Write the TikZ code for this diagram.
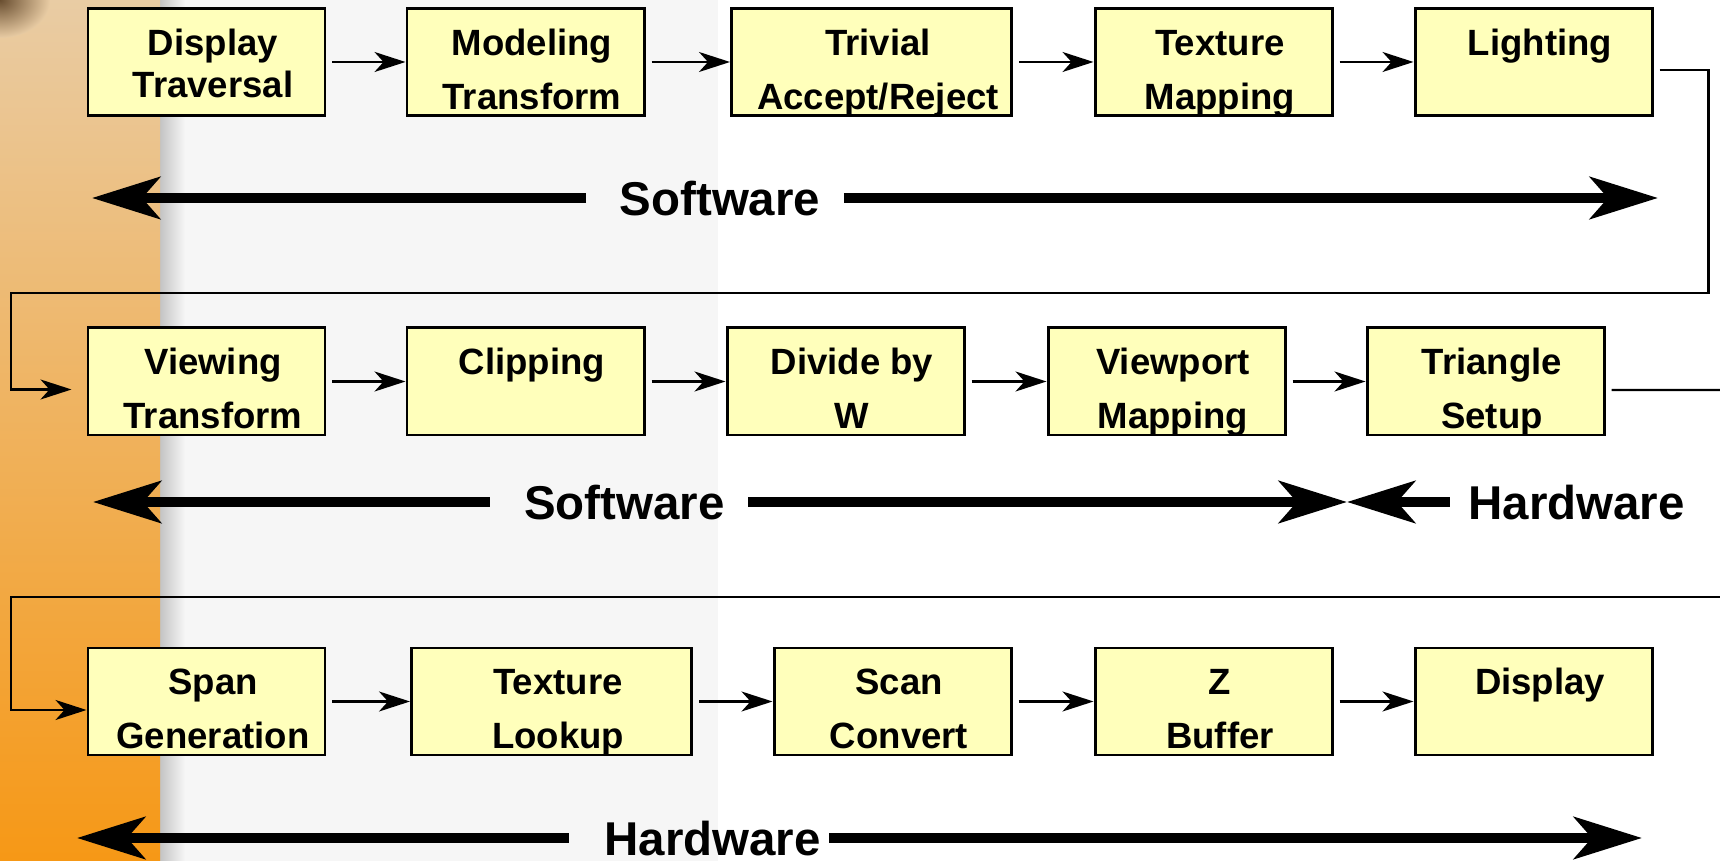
\documentclass[tikz,border=0pt]{standalone}
\usepackage{fontspec}
\setmainfont{Liberation Sans}
\usetikzlibrary{arrows.meta}
\definecolor{boxfill}{RGB}{255,255,187}
\definecolor{paper}{RGB}{246,246,246}
\definecolor{edgegray}{RGB}{196,196,196}
\definecolor{stripTop}{RGB}{233,204,164}
\definecolor{stripMid}{RGB}{240,184,108}
\definecolor{stripBot}{RGB}{246,152,22}
\definecolor{blob}{RGB}{105,78,48}
\tikzset{
  stage/.style={draw, line width=0.85pt, fill=boxfill, minimum width=2.37cm, minimum height=1.07cm,
    inner sep=0pt, align=center, text height=1.01cm, text depth=0.06cm,
    execute at begin node=\hskip1.3mm,
    font=\fontsize{10.4}{15.4}\selectfont\bfseries},
  single/.style={text height=0.47cm, text depth=0.6cm},
  wide/.style={minimum width=2.8cm},
  link/.style={line width=0.6pt},
  flow/.style={link, -{Stealth[length=3.1mm, width=2mm, inset=0.9mm]}},
  side/.style={inner sep=0pt, text depth=0pt, font=\fontsize{13.5}{16}\selectfont\bfseries},
  bigarrow/.style={line width=3pt, -{Stealth[length=6.8mm, width=4.2mm, inset=1.8mm]}}
}
\begin{document}
\begin{tikzpicture}
        \useasboundingbox (0,0) rectangle (17.2,-8.61);
        \fill[white] (0,0) rectangle (17.2,-8.61);
        \fill[paper] (1.6,0) rectangle (7.18,-8.61);
        \shade[left color=edgegray, right color=paper] (1.6,0) rectangle (1.85,-8.61);
        \shade[top color=stripTop, middle color=stripMid, bottom color=stripBot] (0,0) rectangle (1.6,-8.61);
        \shade[inner color=blob, outer color=stripTop] (0,0) ellipse (0.5 and 0.38);

        \node[stage, text height=0.89cm, text depth=0.18cm] (trav) at (2.065,-0.62) {Display\\[-3.4pt]Traversal};
        \node[stage] (model) at (5.255,-0.62) {Modeling\\Transform};
        \node[stage, wide] (trivial) at (8.715,-0.62) {Trivial\\Accept/Reject};
        \node[stage] (texmap) at (12.135,-0.62) {Texture\\Mapping};
        \node[stage, single] (light) at (15.335,-0.62) {Lighting};

        \node[stage] (view) at (2.065,-3.815) {Viewing\\Transform};
        \node[stage, single] (clip) at (5.255,-3.815) {Clipping};
        \node[stage] (divw) at (8.455,-3.815) {Divide by\\W};
        \node[stage] (vport) at (11.665,-3.815) {Viewport\\Mapping};
        \node[stage] (tri) at (14.855,-3.815) {Triangle\\Setup};

        \node[stage] (span) at (2.065,-7.015) {Span\\Generation};
        \node[stage, wide] (texlook) at (5.515,-7.015) {Texture\\Lookup};
        \node[stage] (scan) at (8.925,-7.015) {Scan\\Convert};
        \node[stage] (zbuf) at (12.135,-7.015) {Z\\Buffer};
        \node[stage, single] (disp) at (15.335,-7.015) {Display};

        \draw[flow, shorten <=0.06cm] (trav) -- (model);
        \draw[flow, shorten <=0.06cm] (model) -- (trivial);
        \draw[flow, shorten <=0.06cm] (trivial) -- (texmap);
        \draw[flow, shorten <=0.06cm] (texmap) -- (light);
        \draw[flow, shorten <=0.06cm] (view) -- (clip);
        \draw[flow, shorten <=0.06cm] (clip) -- (divw);
        \draw[flow, shorten <=0.06cm] (divw) -- (vport);
        \draw[flow, shorten <=0.06cm] (vport) -- (tri);
        \draw[flow, shorten <=0.06cm] (span) -- (texlook);
        \draw[flow, shorten <=0.06cm] (texlook) -- (scan);
        \draw[flow, shorten <=0.06cm] (scan) -- (zbuf);
        \draw[flow, shorten <=0.06cm] (zbuf) -- (disp);

        \coordinate (out2) at (17.2,-3.9);
        \coordinate (in3) at (17.2,-5.97);
        \draw[flow, shorten <=0.06cm, shorten >=0.15cm] ([yshift=-0.08cm]light.east) -- ++(0.55,0) |- (0.11,-2.93) |- ([yshift=-0.08cm]view.west);
        \draw[link, shorten <=0.06cm] ([yshift=-0.085cm]tri.east) -- (out2);
        \draw[flow] (in3) -| (0.11,-7.1) -- ([yshift=-0.085cm]span.west);

        \node[side] (sw1) at (7.2,-1.98) {Software};
        \coordinate (l1) at (0.92,-1.98);
        \coordinate (r1) at (16.58,-1.98);
        \draw[bigarrow, shorten <=0.33cm] (sw1.west) -- (l1);
        \draw[bigarrow, shorten <=0.23cm] (sw1.east) -- (r1);

        \node[side] (sw2) at (6.245,-5.02) {Software};
        \node[side] (hw2) at (15.765,-5.02) {Hardware};
        \coordinate (l2) at (0.93,-5.02);
        \coordinate (x2) at (13.47,-5.02);
        \draw[bigarrow, shorten <=0.34cm] (sw2.west) -- (l2);
        \draw[bigarrow, shorten <=0.23cm] (sw2.east) -- (x2);
        \draw[bigarrow, shorten <=0.18cm] (hw2.west) -- (x2);

        \node[side] (hw3) at (7.125,-8.38) {Hardware};
        \coordinate (l3) at (0.77,-8.38);
        \coordinate (r3) at (16.42,-8.38);
        \draw[bigarrow, shorten <=0.35cm] (hw3.west) -- (l3);
        \draw[bigarrow, shorten <=0.08cm] (hw3.east) -- (r3);

    \end{tikzpicture}
\end{document}
